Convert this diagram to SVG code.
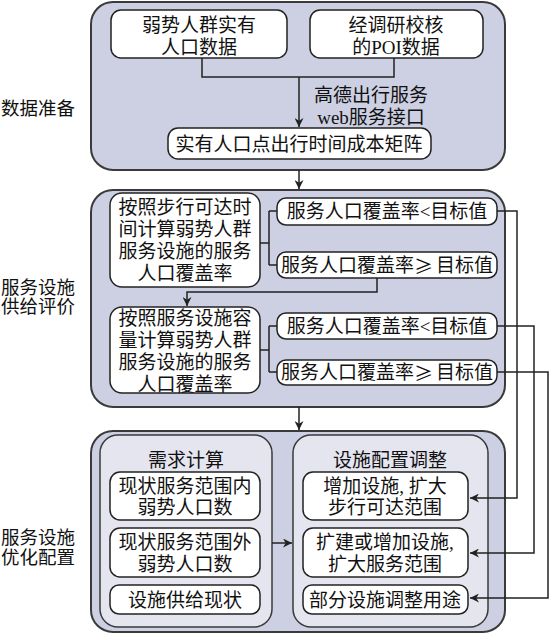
<svg xmlns="http://www.w3.org/2000/svg" width="550" height="634" viewBox="0 0 550 634">
<defs>
<style>
.sec{fill:#cdd0e2;stroke:#3a3a3a;stroke-width:2}
.grp{fill:#e5e5ef;stroke:#3a3a3a;stroke-width:1.5}
.box{fill:#ffffff;stroke:#222;stroke-width:1.5}
.ln{fill:none;stroke:#222;stroke-width:1.5}
text{font-family:"Liberation Serif","Noto Sans CJK SC",serif;font-size:19px;fill:#111;text-anchor:middle;dominant-baseline:central}
.side{font-size:18.5px}
.ge{font-family:"Noto Sans CJK SC",sans-serif;letter-spacing:3px}
</style>
<marker id="ah" viewBox="0 0 10 10" refX="10" refY="5" markerWidth="9" markerHeight="9" markerUnits="userSpaceOnUse" orient="auto">
<path d="M0,0 L10,5 L0,10 L3,5 Z" fill="#222"/>
</marker>
</defs>

<g id="labels">
<text class="side" x="38" y="109">数据准备</text>
<text class="side" x="38" y="288">服务设施</text>
<text class="side" x="38" y="307">供给评价</text>
<text class="side" x="38" y="538">服务设施</text>
<text class="side" x="38" y="558">优化配置</text>
</g>

<g id="sec1"><rect class="sec" x="91" y="2" width="414" height="168" rx="22"/></g>
<g id="sec2"><rect class="sec" x="91" y="190" width="414" height="217" rx="22"/></g>
<g id="sec3"><rect class="sec" x="91" y="431" width="414" height="201" rx="22"/></g>

<g id="nA"><rect class="box" x="111" y="10" width="176" height="48" rx="10"/><text x="199" y="25">弱势人群实有</text><text x="199" y="47">人口数据</text></g>
<g id="nB"><rect class="box" x="310" y="10" width="173" height="48" rx="10"/><text x="396" y="25">经调研校核</text><text x="396" y="47">的POI数据</text></g>
<g id="nC"><rect class="box" x="168" y="128" width="263" height="31" rx="10"/><text x="299" y="144">实有人口点出行时间成本矩阵</text></g>
<g id="apiLabel"><text x="371" y="95">高德出行服务</text><text x="371" y="117">web服务接口</text></g>

<g id="n1"><rect class="box" x="110" y="193" width="150" height="94" rx="12"/><text x="185" y="207">按照步行可达时</text><text x="185" y="229">间计算弱势人群</text><text x="185" y="251">服务设施的服务</text><text x="185" y="273">人口覆盖率</text></g>
<g id="n1a"><rect class="box" x="277" y="198" width="220" height="27" rx="9"/><text x="387" y="211">服务人口覆盖率&lt;目标值</text></g>
<g id="n1b"><rect class="box" x="277" y="252" width="220" height="26" rx="9"/><text x="387" y="265">服务人口覆盖率<tspan class="ge">≥</tspan>目标值</text></g>
<g id="n2"><rect class="box" x="110" y="307" width="150" height="86" rx="12"/><text x="185" y="318">按照服务设施容</text><text x="185" y="340">量计算弱势人群</text><text x="185" y="362">服务设施的服务</text><text x="185" y="384">人口覆盖率</text></g>
<g id="n2a"><rect class="box" x="277" y="313" width="220" height="26" rx="9"/><text x="387" y="326">服务人口覆盖率&lt;目标值</text></g>
<g id="n2b"><rect class="box" x="277" y="360" width="220" height="25" rx="9"/><text x="387" y="372">服务人口覆盖率<tspan class="ge">≥</tspan>目标值</text></g>

<g id="gDemand"><rect class="grp" x="100" y="435" width="172" height="192" rx="18"/><text x="186" y="460">需求计算</text></g>
<g id="d1"><rect class="box" x="110" y="472" width="150" height="48" rx="10"/><text x="185" y="486">现状服务范围内</text><text x="185" y="507">弱势人口数</text></g>
<g id="d2"><rect class="box" x="110" y="528" width="150" height="49" rx="10"/><text x="185" y="542">现状服务范围外</text><text x="185" y="564">弱势人口数</text></g>
<g id="d3"><rect class="box" x="110" y="585" width="150" height="29" rx="9"/><text x="185" y="600">设施供给现状</text></g>

<g id="gAdjust"><rect class="grp" x="293" y="435" width="195" height="192" rx="18"/><text x="390" y="460">设施配置调整</text></g>
<g id="a1"><rect class="box" x="303" y="472" width="165" height="48" rx="10"/><text x="385" y="486">增加设施, 扩大</text><text x="385" y="507">步行可达范围</text></g>
<g id="a2"><rect class="box" x="303" y="528" width="165" height="49" rx="10"/><text x="385" y="542">扩建或增加设施,</text><text x="385" y="564">扩大服务范围</text></g>
<g id="a3"><rect class="box" x="303" y="585" width="165" height="29" rx="9"/><text x="385" y="600">部分设施调整用途</text></g>

<g id="connectors">
<path class="ln" d="M202,58 V77 H394 V58"/>
<path class="ln" d="M299,77 V127" marker-end="url(#ah)"/>
<path class="ln" d="M299,170 V189" marker-end="url(#ah)"/>
<path class="ln" d="M260,243 H269 M269,211 V265 M269,211 H277 M269,265 H277"/>
<path class="ln" d="M377,278 V292 H187 V306" marker-end="url(#ah)"/>
<path class="ln" d="M260,350 H269 M269,326 V372 M269,326 H277 M269,372 H277"/>
<path class="ln" d="M299,407 V430" marker-end="url(#ah)"/>
<path class="ln" d="M497,211 H517 V498 H470" marker-end="url(#ah)"/>
<path class="ln" d="M497,326 H534 V553 H470" marker-end="url(#ah)"/>
<path class="ln" d="M497,372 H548 V598 H470" marker-end="url(#ah)"/>
<path class="ln" d="M272,543 H292" marker-end="url(#ah)"/>
</g>
</svg>
